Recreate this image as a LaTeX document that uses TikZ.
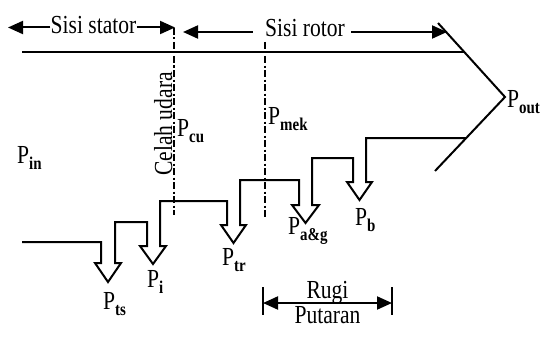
\documentclass[tikz,border=0pt]{standalone}
\usepackage{fontspec}
\setmainfont{Liberation Serif}[FakeStretch=0.83]
\usetikzlibrary{arrows.meta}
\newcommand\Pn[1]{P\raisebox{-6pt}{\fontsize{18}{18}\selectfont\bfseries #1}}
\begin{document}
\begin{tikzpicture}[x=1pt,y=-1pt,
  thick line/.style={line width=2pt, line join=miter},
  ddline/.style={line width=2pt, dash pattern=on 7pt off 2.5pt on 2pt off 2.5pt},
  lbl/.style={inner sep=0pt, anchor=base west, font=\fontsize{26}{28}\selectfont},
  txt/.style={inner sep=0pt, font=\fontsize{26}{28}\selectfont},
  tip/.style={-{Triangle[length=15pt,width=13pt]}, line width=2pt}]
\useasboundingbox (0,0) rectangle (543,337);
% key coordinates
\coordinate (pout) at (505,97);
\coordinate (uend) at (438,23);
\coordinate (lend) at (435,171);
\coordinate (hl) at (22,52);
\coordinate (hr) at (464,52);
% top line and P_out wedge
\draw[thick line] (hl) -- (hr);
\draw[thick line] (uend) -- (pout) -- (lend);
% dash-dot boundary lines
\coordinate (c1) at (174,28); \coordinate (c2) at (174,215);
\coordinate (m1) at (265,42); \coordinate (m2) at (265,217);
\draw[ddline] (c1) -- (c2);
\draw[ddline] (m1) -- (m2);
% power flow
\coordinate (fin) at (22,242);
\coordinate (fout) at (466,138);
\draw[thick line] (fin) -- (101,242) -- (101,263) -- (95,263) -- (108,282) -- (121,263) -- (115,263) -- (115,222)
 -- (147,222) -- (147,246) -- (140,246) -- (153,264) -- (166,246) -- (160,246) -- (160,201)
 -- (227,201) -- (227,225) -- (221,225) -- (233.5,243) -- (246,225) -- (240,225) -- (240,180)
 -- (299,180) -- (299,205) -- (292,205) -- (305.5,223) -- (319,205) -- (312,205) -- (312,158)
 -- (353,158) -- (353,182) -- (347,182) -- (359.5,200) -- (372,182) -- (366,182) -- (366,138)
 -- (fout);
% headers
\node[txt, anchor=base] (stator) at (93.5,34) {Sisi stator};
\node[txt, anchor=base] (rotor) at (305,37) {Sisi rotor};
\coordinate (sl) at (8,27.5); \coordinate (sr) at (175,27.5);
\coordinate (rl) at (183,32); \coordinate (rr) at (447,32);
\draw[tip] (stator.west |- sl) -- (sl);
\draw[tip] (stator.east |- sr) -- (sr);
\draw[tip] (rotor.west |- rl) ++(-12,0) -- (rl);
\draw[tip] (rotor.east |- rr) ++(6,0) -- (rr);
% rotated label
\node[txt, rotate=90, anchor=base] (celah) at (172,124) {Celah udara};
% labels
\node[lbl] (pin) at (17,163) {\Pn{in}};
\node[lbl] (pcu) at (177,136) {\Pn{cu}};
\node[lbl] (pmek) at (268,124) {\Pn{mek}};
\node[lbl] (pouttxt) at (507,107) {\Pn{out}};
\node[lbl] (pts) at (103,309) {\Pn{ts}};
\node[lbl] (pi) at (147,287) {\Pn{i}};
\node[lbl] (ptr) at (222,265) {\Pn{tr}};
\node[lbl] (pag) at (288,234) {\Pn{a\&g}};
\node[lbl] (pb) at (355,225) {\Pn{b}};
% Rugi putaran
\coordinate (b1t) at (263,287); \coordinate (b1b) at (263,315);
\coordinate (b2t) at (392,287); \coordinate (b2b) at (392,315);
\draw[line width=2pt] (b1t) -- (b1b);
\draw[line width=2pt] (b2t) -- (b2b);
\coordinate (ra) at (263,303); \coordinate (rb) at (392,303);
\draw[{Triangle[length=15pt,width=13pt]}-{Triangle[length=15pt,width=13pt]}, line width=2pt] (ra) -- (rb);
\node[txt, anchor=base] (rugi) at (327.5,298) {Rugi};
\node[txt, anchor=base] (putaran) at (327.5,323) {Putaran};
\end{tikzpicture}
\end{document}
